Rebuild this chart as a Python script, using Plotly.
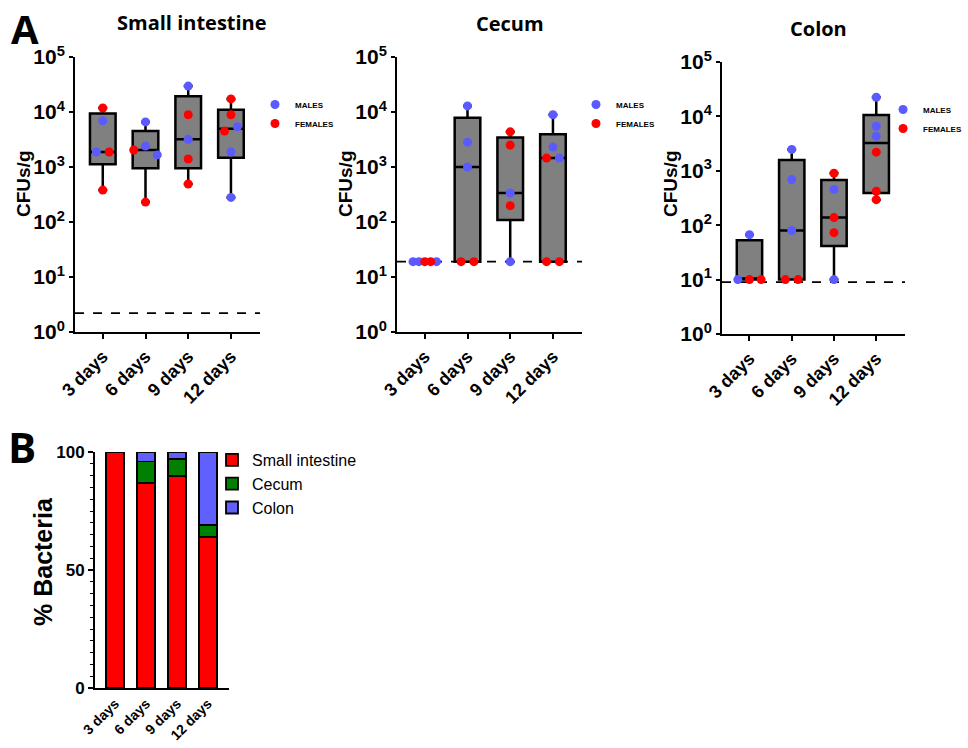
import numpy as np
import plotly.graph_objects as go

# ---------------- data ----------------
days = ["3 days", "6 days", "9 days", "12 days"]

# CFUs/g per mouse, per time point (M = male, F = female)
si_vals = [[11800, 6900, 1870, 1870, 380],
           [6600, 2040, 2400, 1660, 230],
           [29600, 8900, 3200, 1400, 490],
           [17300, 8900, 4500, 5400, 1870, 280]]
si_sex = [["F", "M", "M", "F", "F"],
          ["M", "F", "M", "M", "F"],
          ["M", "F", "M", "F", "F"],
          ["F", "F", "F", "M", "M", "M"]]

cecum_vals = [[19, 19, 19, 19, 19],
              [12900, 2830, 1000, 19, 19],
              [4360, 2500, 337, 198, 19],
              [8900, 2300, 1450, 1450, 19, 19]]
cecum_sex = [["M", "M", "F", "F", "M"],
             ["M", "M", "M", "F", "F"],
             ["F", "F", "M", "F", "M"],
             ["M", "M", "F", "M", "F", "F"]]

colon_vals = [[67, 10, 10, 10],
              [2470, 690, 80, 10, 10],
              [900, 455, 138, 73, 10],
              [22500, 6600, 4300, 2200, 420, 295]]
colon_sex = [["M", "M", "F", "F"],
             ["M", "M", "M", "F", "F"],
             ["F", "M", "F", "F", "M"],
             ["M", "M", "M", "F", "F", "F"]]

detection_limits = {"Small intestine": 2.2, "Cecum": 19, "Colon": 9}

# % of bacteria per compartment
pct_si = [100, 87, 90, 64]
pct_cecum = [0, 9, 7, 5]
pct_colon = [0, 4, 3, 31]

y_exps = [0, 1, 2, 3, 4, 5]
pct_ticks = [0, 50, 100]

# ---------------- layout helpers ----------------
W, H = 968, 748


def px(x):
    return x / W


def py(y):
    return 1 - y / H


BLUE = "#5a5aff"
RED = "#ff0000"
FONT = "Liberation Sans"
XR = [-0.65, 3.68]

fig = go.Figure()


def spread(values, thresh=0.12):
    """Symmetric horizontal spread for points with (nearly) equal values."""
    logs = np.log10(np.asarray(values, dtype=float))
    order = np.argsort(logs, kind="stable")
    clusters, cur = [], [order[0]]
    for a, b in zip(order[:-1], order[1:]):
        if logs[b] - logs[a] < thresh:
            cur.append(b)
        else:
            clusters.append(cur)
            cur = [b]
    clusters.append(cur)
    off = np.zeros(len(values))
    for c in clusters:
        c = sorted(c)
        k = len(c)
        if k > 1:
            sp = min(0.3, 0.55 / (k - 1))
            for j, idx in enumerate(c):
                off[idx] = (j - (k - 1) / 2) * sp
    return off


def add_panel(n, name, vals, sex):
    xa, ya = ("x", "y") if n == 1 else (f"x{n}", f"y{n}")
    leg = f"legend{n + 1}"
    stats = [np.percentile(v, [25, 50, 75], method="weibull") for v in vals]
    fig.add_trace(go.Box(
        x=list(range(len(days))),
        lowerfence=[min(v) for v in vals],
        q1=[s[0] for s in stats],
        median=[s[1] for s in stats],
        q3=[s[2] for s in stats],
        upperfence=[max(v) for v in vals],
        width=0.6, whiskerwidth=0.35, boxpoints=False,
        fillcolor="#808080", line=dict(color="black", width=2.5),
        showlegend=False, hoverinfo="skip", xaxis=xa, yaxis=ya))
    lim = detection_limits[name]
    fig.add_trace(go.Scatter(
        x=XR, y=[lim, lim], mode="lines",
        line=dict(color="black", width=1.6, dash="dash"),
        showlegend=False, hoverinfo="skip", xaxis=xa, yaxis=ya))
    for g, label, col in [("M", "MALES", BLUE), ("F", "FEMALES", RED)]:
        xs, ys = [], []
        for i, (v, s) in enumerate(zip(vals, sex)):
            off = spread(v)
            for val, sx, o in zip(v, s, off):
                if sx == g:
                    xs.append(i + o)
                    ys.append(val)
        fig.add_trace(go.Scatter(
            x=xs, y=ys, mode="markers", name=label,
            marker=dict(color=col, size=9),
            cliponaxis=False, legend=leg, xaxis=xa, yaxis=ya))


add_panel(1, "Small intestine", si_vals, si_sex)
add_panel(2, "Cecum", cecum_vals, cecum_sex)
add_panel(3, "Colon", colon_vals, colon_sex)

for vals, name, col in [(pct_si, "Small intestine", "#ff0000"),
                        (pct_cecum, "Cecum", "#008000"),
                        (pct_colon, "Colon", "#6060ff")]:
    fig.add_trace(go.Bar(
        x=list(range(len(days))), y=vals, name=name, width=0.58,
        marker=dict(color=col, line=dict(color="black", width=1.8)),
        legend="legend", xaxis="x4", yaxis="y4"))

# ---------------- axes ----------------
common_x = dict(range=XR, tickvals=list(range(len(days))), ticktext=days,
                tickangle=-45, ticks="outside", ticklen=5, tickwidth=2,
                tickcolor="black", showline=True, linewidth=2, linecolor="black",
                showgrid=False, zeroline=False, automargin=False,
                tickfont=dict(family=FONT, size=18, color="black", weight="bold"))
common_y = dict(type="log", range=[0, 5],
                tickvals=[10 ** e for e in y_exps],
                ticktext=[f"10<sup>{e}</sup>" for e in y_exps],
                ticks="outside", ticklen=4, tickwidth=2, tickcolor="black",
                showline=True, linewidth=2, linecolor="black",
                showgrid=False, zeroline=False, automargin=False,
                tickfont=dict(family=FONT, size=21, color="black", weight="bold"))

doms = {1: ([75, 260], [57, 332]), 2: ([397, 582], [57, 332]), 3: ([722, 905], [62, 334])}
for n, (dx, dy) in doms.items():
    kx = "xaxis" if n == 1 else f"xaxis{n}"
    ky = "yaxis" if n == 1 else f"yaxis{n}"
    yname = "y" if n == 1 else f"y{n}"
    xname = "x" if n == 1 else f"x{n}"
    fig.layout[kx] = dict(common_x, domain=[px(dx[0]), px(dx[1])], anchor=yname)
    fig.layout[ky] = dict(common_y, domain=[py(dy[1]), py(dy[0])], anchor=xname)

fig.layout["xaxis4"] = dict(range=[-0.645, 3.68], tickvals=list(range(len(days))), ticktext=days,
                            tickangle=-45, ticks="", showline=True, linewidth=2, linecolor="black",
                            showgrid=False, zeroline=False, automargin=False,
                            domain=[px(95), px(229)], anchor="y4",
                            tickfont=dict(family=FONT, size=14, color="black", weight="bold"))
fig.layout["yaxis4"] = dict(range=[0, 100], tickvals=pct_ticks, ticks="outside", ticklen=5,
                            tickwidth=2, tickcolor="black", showline=True, linewidth=2,
                            linecolor="black", showgrid=False, zeroline=False, automargin=False,
                            minor=dict(dtick=5, ticks="outside", ticklen=3, tickwidth=1,
                                       tickcolor="black", showgrid=False),
                            domain=[py(688), py(452)], anchor="x4",
                            tickfont=dict(family=FONT, size=17, color="black", weight="bold"))

# ---------------- legends ----------------
small_leg = dict(font=dict(family=FONT, size=8, color="black", weight="bold"),
                 bgcolor="rgba(0,0,0,0)", xanchor="left", yanchor="top",
                 itemwidth=30, tracegroupgap=0)
fig.update_layout(
    legend=dict(x=px(212), y=py(443), xanchor="left", yanchor="top",
                font=dict(family=FONT, size=16, color="black"),
                bgcolor="rgba(0,0,0,0)", traceorder="normal"),
    legend2=dict(small_leg, x=px(255), y=py(90)),
    legend3=dict(small_leg, x=px(576), y=py(90)),
    legend4=dict(small_leg, x=0.999, xanchor="right", y=py(95)),
)

# ---------------- text ----------------
ann = []


def text(x, y, s, size, bold=True, angle=0, family="Open Sans"):
    ann.append(dict(x=px(x), y=py(y), xref="paper", yref="paper", text=s,
                    showarrow=False, textangle=angle, xanchor="center", yanchor="middle",
                    font=dict(family=family, size=size, color="black",
                              weight="bold" if bold else "normal")))


text(25, 28, "A", 40)
text(22, 447, "B", 42)
text(192, 22, "Small intestine", 20)
text(510, 23, "Cecum", 20)
text(818, 28, "Colon", 20)
for xx in (23, 345, 670):
    text(xx, 184, "CFUs/g", 19, angle=-90, family=FONT)
text(43, 562, "% Bacteria", 25, angle=-90, family=FONT)

fig.update_layout(
    template="none",
    annotations=ann, barmode="stack", width=W, height=H, autosize=False,
    margin=dict(l=0, r=0, t=0, b=0, autoexpand=False, pad=0),
    paper_bgcolor="white", plot_bgcolor="white",
    font=dict(family=FONT, color="black"),
)

fig.write_html("out.html", config={"displayModeBar": False},
               post_script="document.body.style.margin='0px';document.body.style.overflow='hidden';")
